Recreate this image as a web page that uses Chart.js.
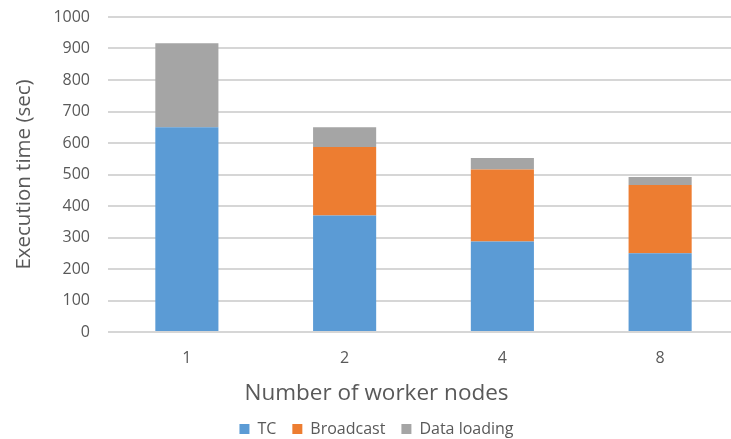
<!DOCTYPE html>
<html>
<head>
<meta charset="utf-8">
<script src="https://cdn.jsdelivr.net/npm/chart.js@4/dist/chart.umd.min.js"></script>
<style>
  html, body { margin: 0; padding: 0; background: #ffffff; overflow: hidden; }
  #wrap { position: absolute; left: 0; top: 0; width: 739px; height: 447px; }
</style>
</head>
<body>
<div id="wrap"><canvas id="chart"></canvas></div>
<script>
// Execution time per stage, by cluster size
const workerNodes = ['1', '2', '4', '8'];
const tcTime = [650, 370, 287, 250];
const broadcastTime = [0, 217, 229, 217];
const dataLoadingTime = [267, 63, 36, 25];
const yTicks = [0, 100, 200, 300, 400, 500, 600, 700, 800, 900, 1000];

const FONT = "'Open Sans', 'DejaVu Sans', sans-serif";
const TEXT = '#595959';
const GRID = '#d6d6d6';
const PLOT_BOTTOM = 332;

new Chart(document.getElementById('chart'), {
  type: 'bar',
  data: {
    labels: workerNodes,
    datasets: [
      { label: 'TC', data: tcTime, backgroundColor: '#5b9bd5' },
      { label: 'Broadcast', data: broadcastTime, backgroundColor: '#ed7d31' },
      { label: 'Data loading', data: dataLoadingTime, backgroundColor: '#a5a5a5' }
    ]
  },
  options: {
    responsive: true,
    maintainAspectRatio: false,
    animation: false,
    layout: { padding: { left: 14, top: 17, right: 0, bottom: 0 } },
    datasets: {
      bar: { barPercentage: 0.4, categoryPercentage: 1.0, borderWidth: 0 }
    },
    scales: {
      x: {
        stacked: true,
        grid: { display: false, drawTicks: false },
        border: { display: false },
        ticks: { color: TEXT, font: { family: FONT, size: 16 }, padding: 17 },
        afterFit(scale) {
          const c = scale.chart;
          const legendH = c.legend ? c.legend.height : 0;
          const titleH = c.titleBlock ? c.titleBlock.height : 0;
          scale.height = c.height - PLOT_BOTTOM - legendH - titleH;
        }
      },
      y: {
        stacked: true,
        min: 0,
        max: 1000,
        afterBuildTicks(scale) {
          scale.ticks = yTicks.map(v => ({ value: v }));
        },
        grid: {
          color: GRID,
          lineWidth: 2,
          drawTicks: true,
          tickLength: 18,
          tickColor: 'rgba(0,0,0,0)'
        },
        border: { display: false },
        ticks: {
          color: TEXT,
          font: { family: FONT, size: 16 },
          padding: 0,
          callback: v => String(v)
        },
        title: {
          display: true,
          text: 'Execution time (sec)',
          color: TEXT,
          font: { family: FONT, size: 20.5, lineHeight: 1 },
          padding: { top: 0, bottom: 0 }
        },
        afterFit(scale) { scale.width = 94; }
      }
    },
    plugins: {
      title: {
        display: true,
        position: 'bottom',
        weight: 500,
        text: 'Number of worker nodes',
        color: TEXT,
        font: { family: FONT, size: 22.5, weight: 'normal', lineHeight: 1 },
        padding: { top: 4, bottom: 0 }
      },
      legend: {
        position: 'bottom',
        labels: {
          color: TEXT,
          font: { family: FONT, size: 16 },
          boxWidth: 10,
          boxHeight: 10,
          padding: 16
        }
      },
      tooltip: { enabled: false }
    }
  }
});
</script>
</body>
</html>
